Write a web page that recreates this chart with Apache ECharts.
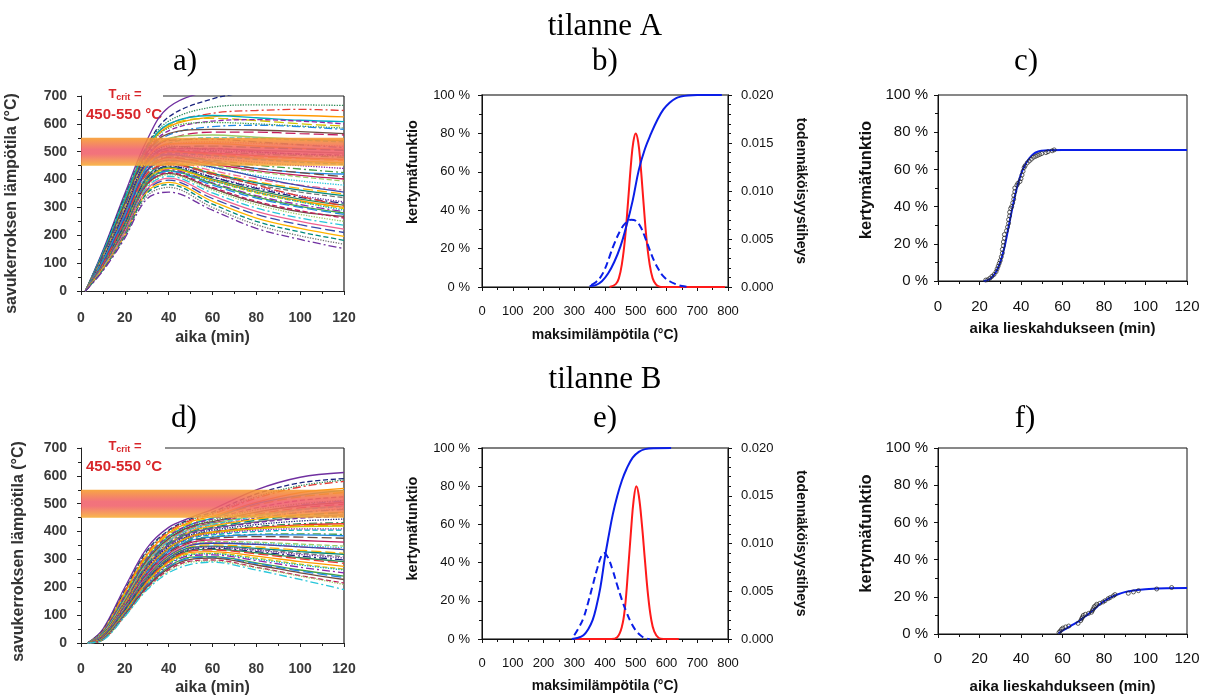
<!DOCTYPE html>
<html>
<head>
<meta charset="utf-8">
<script src="https://cdn.jsdelivr.net/npm/echarts@6/dist/echarts.min.js"></script>
<style>
  html, body { margin: 0; padding: 0; background: #fff; }
  #kuva { width: 1211px; height: 700px; }
</style>
</head>
<body>
<div id="kuva"></div>
<script>
// a) tilanne A: savukerroksen lämpötila, arvot aikapisteissä
const aikaA = [2, 10, 20, 30, 40, 60, 80, 100, 120]
const kayratA = [
    [0, 145, 350, 540, 660, 720, 730, 730, 730],
    [0, 140, 340, 520, 625, 690, 715, 720, 720],
    [0, 140, 340, 520, 610, 660, 668, 668, 666],
    [0, 130, 330, 515, 598, 638, 648, 652, 648],
    [0, 135, 320, 510, 590, 625, 632, 630, 625],
    [0, 132, 325, 512, 595, 620, 612, 600, 592],
    [0, 138, 330, 515, 600, 630, 622, 613, 608],
    [0, 120, 310, 500, 575, 610, 615, 610, 600],
    [0, 128, 318, 505, 585, 605, 600, 592, 585],
    [0, 125, 300, 490, 560, 590, 595, 590, 580],
    [0, 130, 315, 495, 565, 580, 578, 572, 565],
    [0, 120, 300, 480, 545, 570, 570, 565, 560],
    [0, 122, 302, 482, 548, 560, 552, 545, 540],
    [0, 115, 290, 470, 530, 550, 548, 542, 535],
    [0, 118, 295, 475, 525, 535, 530, 525, 520],
    [0, 125, 305, 485, 540, 545, 535, 525, 515],
    [0, 116, 292, 472, 528, 530, 520, 512, 508],
    [0, 110, 285, 465, 515, 520, 515, 510, 505],
    [0, 112, 280, 460, 510, 510, 505, 500, 495],
    [0, 112, 285, 462, 512, 512, 500, 492, 488],
    [0, 115, 290, 470, 520, 505, 498, 490, 485],
    [0, 108, 275, 455, 505, 500, 492, 486, 480],
    [0, 106, 272, 452, 502, 495, 486, 478, 472],
    [0, 105, 270, 450, 500, 492, 482, 475, 468],
    [0, 104, 268, 448, 498, 488, 476, 466, 460],
    [0, 110, 270, 445, 495, 485, 472, 462, 455],
    [0, 100, 265, 440, 490, 478, 462, 450, 440],
    [0, 102, 260, 435, 485, 470, 452, 438, 425],
    [0, 105, 270, 445, 490, 465, 440, 425, 420],
    [0, 98, 255, 430, 480, 460, 440, 425, 410],
    [0, 98, 258, 432, 478, 455, 432, 415, 402],
    [0, 100, 250, 425, 475, 450, 428, 410, 395],
    [0, 95, 250, 420, 470, 442, 415, 395, 380],
    [0, 96, 245, 415, 465, 432, 402, 380, 362],
    [0, 100, 260, 430, 470, 445, 410, 378, 355],
    [0, 92, 240, 410, 460, 425, 392, 368, 348],
    [0, 93, 244, 410, 458, 422, 388, 362, 342],
    [0, 94, 238, 405, 455, 418, 382, 355, 335],
    [0, 90, 235, 400, 450, 410, 372, 342, 320],
    [0, 91, 236, 402, 448, 408, 368, 336, 315],
    [0, 92, 230, 398, 445, 402, 362, 330, 308],
    [0, 95, 255, 420, 455, 420, 380, 340, 305],
    [0, 89, 230, 396, 440, 398, 356, 324, 300],
    [0, 88, 228, 395, 440, 396, 352, 320, 296],
    [0, 88, 230, 395, 430, 395, 355, 320, 290],
    [0, 90, 225, 390, 435, 388, 342, 310, 285],
    [0, 86, 224, 388, 432, 385, 338, 304, 280],
    [0, 85, 222, 385, 430, 380, 333, 300, 275],
    [0, 84, 218, 382, 422, 368, 318, 284, 268],
    [0, 86, 220, 380, 425, 372, 322, 288, 262],
    [0, 82, 215, 375, 418, 362, 310, 275, 250],
    [0, 84, 212, 370, 412, 352, 298, 262, 236],
    [0, 80, 210, 365, 405, 342, 286, 250, 222],
    [0, 78, 205, 360, 398, 332, 275, 238, 210],
    [0, 80, 200, 355, 390, 322, 262, 225, 196],
    [0, 76, 198, 350, 382, 312, 250, 212, 182],
    [0, 75, 195, 340, 372, 300, 238, 198, 168],
    [0, 72, 190, 330, 355, 290, 225, 185, 152],
]

// d) tilanne B
const aikaD = [3, 10, 20, 30, 40, 50, 60, 80, 100, 120]
const kayratD = [
    [0, 50, 200, 340, 415, 450, 480, 550, 595, 612],
    [0, 45, 190, 330, 405, 445, 470, 535, 575, 590],
    [0, 44, 188, 326, 402, 442, 465, 525, 565, 585],
    [0, 40, 185, 320, 400, 440, 462, 520, 560, 580],
    [0, 42, 180, 315, 395, 435, 455, 505, 540, 555],
    [0, 38, 175, 310, 390, 430, 450, 495, 525, 540],
    [0, 38, 168, 300, 382, 425, 448, 500, 530, 548],
    [0, 40, 170, 305, 385, 425, 445, 485, 512, 525],
    [0, 35, 165, 300, 380, 420, 440, 478, 500, 512],
    [0, 35, 160, 292, 372, 415, 432, 468, 495, 510],
    [0, 36, 160, 295, 375, 418, 436, 470, 492, 505],
    [0, 33, 158, 290, 370, 412, 430, 462, 485, 498],
    [0, 34, 156, 288, 368, 410, 428, 458, 480, 492],
    [0, 34, 155, 285, 365, 408, 425, 455, 478, 490],
    [0, 32, 152, 282, 362, 405, 422, 450, 470, 482],
    [0, 30, 150, 280, 360, 402, 420, 448, 468, 480],
    [0, 30, 150, 278, 355, 400, 420, 445, 460, 470],
    [0, 32, 148, 278, 355, 398, 415, 440, 458, 468],
    [0, 29, 146, 274, 352, 395, 412, 435, 452, 460],
    [0, 28, 145, 272, 350, 392, 410, 432, 448, 455],
    [0, 30, 142, 268, 345, 388, 405, 425, 438, 445],
    [0, 26, 140, 265, 342, 385, 400, 418, 428, 432],
    [0, 27, 140, 264, 340, 383, 398, 414, 424, 428],
    [0, 28, 142, 262, 340, 382, 398, 412, 420, 422],
    [0, 28, 138, 260, 338, 380, 395, 410, 418, 420],
    [0, 25, 135, 256, 334, 375, 388, 400, 405, 405],
    [0, 26, 138, 258, 335, 378, 392, 405, 410, 410],
    [0, 26, 132, 252, 330, 370, 382, 390, 392, 390],
    [0, 24, 130, 250, 328, 368, 380, 388, 388, 385],
    [0, 23, 130, 248, 325, 365, 376, 382, 380, 376],
    [0, 24, 128, 245, 320, 360, 370, 372, 368, 362],
    [0, 22, 125, 240, 316, 355, 364, 362, 355, 348],
    [0, 21, 124, 238, 314, 352, 360, 358, 350, 342],
    [0, 22, 125, 238, 315, 352, 360, 355, 345, 338],
    [0, 22, 122, 236, 312, 350, 358, 354, 345, 335],
    [0, 20, 120, 232, 308, 345, 352, 345, 333, 322],
    [0, 20, 120, 230, 305, 342, 348, 340, 328, 318],
    [0, 20, 118, 228, 303, 340, 346, 336, 322, 310],
    [0, 19, 117, 226, 300, 338, 344, 333, 318, 305],
    [0, 18, 115, 224, 298, 335, 340, 328, 312, 298],
    [0, 17, 113, 222, 296, 332, 336, 324, 306, 292],
    [0, 18, 112, 220, 294, 330, 334, 320, 302, 286],
    [0, 16, 110, 216, 290, 325, 328, 312, 292, 275],
    [0, 16, 108, 212, 285, 320, 322, 305, 283, 265],
    [0, 15, 107, 210, 283, 317, 320, 301, 280, 262],
    [0, 14, 105, 208, 280, 314, 316, 296, 272, 252],
    [0, 14, 102, 204, 274, 308, 310, 288, 262, 240],
    [0, 13, 103, 203, 272, 305, 308, 285, 258, 235],
    [0, 12, 100, 200, 268, 300, 305, 280, 252, 228],
    [0, 12, 98, 196, 262, 294, 298, 272, 242, 215],
    [0, 11, 96, 192, 258, 290, 294, 270, 240, 210],
    [0, 10, 95, 190, 252, 282, 290, 262, 228, 192],
]

// b) kertymäfunktio (sininen), tiheys (katkoviiva) ja kriittinen lämpötila (punainen)
const bKertymaX = [350, 370, 390, 410, 430, 450, 470, 490, 510, 530, 550, 570, 590, 610, 630, 650, 670, 700, 780]
const bKertymaY = [0.5, 1, 3, 7, 13, 21, 32, 45, 61, 72, 80, 87, 92.5, 96, 98.3, 99.3, 99.8, 100, 100]
const bTiheysX = [355, 370, 385, 400, 415, 430, 450, 465, 485, 500, 515, 530, 545, 560, 575, 590, 610, 630, 650, 670]
const bTiheysY = [0.0002, 0.0005, 0.001, 0.0019, 0.0032, 0.0045, 0.0059, 0.0066, 0.007, 0.0069, 0.0063, 0.0052, 0.0039, 0.0027, 0.0018, 0.0011, 0.0006, 0.0003, 0.0001, 0.00002]
const bKriitX = [415, 435, 445, 455, 465, 475, 485, 492, 500, 508, 515, 525, 535, 545, 555, 565, 575, 590, 790]
const bKriitY = [0, 0.0003, 0.0009, 0.0024, 0.005, 0.0089, 0.013, 0.0151, 0.016, 0.0151, 0.013, 0.0089, 0.005, 0.0024, 0.0009, 0.0003, 0.00006, 0, 0]

// e)
const eKertymaX = [292, 310, 330, 345, 360, 372, 385, 400, 412, 425, 440, 455, 470, 490, 510, 530, 560, 615]
const eKertymaY = [0, 0.5, 2, 5, 10, 17, 27, 43, 54, 65, 75, 83, 89, 95, 98, 99.4, 99.9, 100]
const eTiheysX = [300, 315, 330, 345, 360, 375, 388, 397, 410, 425, 440, 455, 470, 485, 500, 515, 530, 545]
const eTiheysY = [0.0004, 0.0012, 0.0022, 0.0038, 0.0056, 0.0074, 0.0087, 0.009, 0.0085, 0.0072, 0.0056, 0.0041, 0.0028, 0.0017, 0.0009, 0.0004, 0.0001, 0]
const eKriitX = [300, 420, 440, 455, 465, 475, 485, 493, 502, 510, 520, 530, 540, 550, 560, 575, 590, 640]
const eKriitY = [0, 0, 0.0002, 0.0013, 0.0033, 0.0072, 0.0115, 0.0145, 0.016, 0.015, 0.012, 0.0082, 0.0046, 0.0021, 0.0008, 0.0001, 0, 0]

// c) aika lieskahdukseen, tilanne A
const cKayraX = [22, 24, 26, 28, 30, 32, 34, 36, 38, 40, 42, 44, 46, 48, 50, 53, 60, 120]
const cKayraY = [0, 0.5, 2, 5, 10, 18, 29, 40, 50, 57.5, 62.5, 66, 68.3, 69.5, 70, 70.3, 70.4, 70.4]
const cPisteX = [23, 24, 25, 26, 27, 28, 28.5, 29, 29.5, 30, 30.5, 31, 31, 31.5, 31.5, 32, 32, 33, 33.5, 34, 34, 34.5, 34.5, 35, 35.5, 36, 36.5, 36.5, 37, 37, 38, 38.5, 39.5, 40, 40.5, 41, 41.5, 42, 43, 44, 45, 46, 47, 48, 49, 50, 52, 53, 55, 56]
const cPisteY = [0.5, 0.7, 1.5, 2.5, 3.5, 5, 6.5, 8, 9.5, 11, 13, 15, 17, 19, 21, 23, 25, 27, 29, 31, 33, 35, 37, 39, 40, 42, 44, 46, 48, 50, 51.5, 52.5, 53.5, 55, 57, 59, 61, 62, 63.5, 64.5, 65.5, 66.5, 67, 67.5, 68, 68.5, 69, 69.5, 70, 70.5]

// f) tilanne B
const fKayraX = [58, 60, 62, 65, 68, 70, 72, 75, 78, 80, 83, 86, 90, 95, 100, 105, 110, 120]
const fKayraY = [0.3, 1.8, 3, 5, 7, 8.7, 10.3, 13, 16, 17.6, 19.5, 21, 22.5, 23.5, 24.1, 24.4, 24.6, 24.7]
const fPisteX = [58.3, 58.8, 59.5, 60.2, 61.5, 63, 67.5, 68.8, 69.2, 69.6, 70, 71, 72.6, 74, 74.4, 74.8, 75.3, 76, 76.5, 78, 79.5, 80.5, 82, 83, 84.5, 85.3, 91.7, 94.2, 96.6, 105.4, 112.6]
const fPisteY = [0.8, 1.5, 2.5, 3.2, 3.8, 4.3, 5.7, 7.2, 8.2, 9, 10, 10.6, 11.1, 11.7, 12.6, 13.5, 14.7, 15.2, 16, 16.5, 17.2, 17.9, 19, 19.6, 20.5, 21.2, 21.9, 22.6, 23.3, 24.2, 25]

const vaerit = ['#7030a0', '#1a237e', '#2e8b57', '#e53935', '#ff9800', '#d4c400', '#00acc1', '#8e24aa',
    '#43a047', '#1e88e5', '#6d4c41', '#c2185b', '#9ccc65', '#26c6da', '#f06292', '#3949ab', '#ffb300', '#00897b', '#757575']
const viivat = ['solid', 'dashed', 'dotted', [8, 3, 2, 3], 'solid', [10, 4]]

const sans = '"Liberation Sans", Arial, sans-serif'
const serif = '"Liberation Serif", "Times New Roman", serif'
const sininen = '#0a1ee8'
const punainen = '#ff1a1a'

const pari = (xs, ys) => xs.map((x, i) => [x, ys[i]])

const otsikko = (text, left, top) => ({
    text, left, top, textAlign: 'center', padding: 0,
    textStyle: { fontFamily: serif, fontSize: 31, fontWeight: 'normal', color: '#000' },
})

const tikit = (color, minor) => ({
    axisLine: { onZero: false, lineStyle: { color, width: 1 } },
    axisTick: { length: 4, lineStyle: { color } },
    minorTick: { show: true, splitNumber: minor, length: 3, lineStyle: { color } },
    splitLine: { show: false },
})

const lampoX = (grid, nameGap, margin) => ({
    gridIndex: grid, type: 'value', min: 0, max: 120, interval: 20, ...tikit('#222', 2),
    axisLabel: { margin, fontSize: 14, fontWeight: 'bold', color: '#3a3a3a', fontFamily: sans },
    name: 'aika (min)', nameLocation: 'middle', nameGap,
    nameTextStyle: { fontSize: 16, fontWeight: 'bold', color: '#333', fontFamily: sans },
})
const lampoY = (grid, nameGap, siirto) => ({
    gridIndex: grid, type: 'value', min: 0, max: 700, interval: 100, ...tikit('#222', 2),
    axisLabel: { margin: 14, fontSize: 14, fontWeight: 'bold', color: '#3a3a3a', fontFamily: sans },
    name: 'savukerroksen lämpötila (°C)', nameLocation: 'middle', nameGap, nameRotate: 90,
    nameTextStyle: { fontSize: 16, fontWeight: 'bold', color: '#333', fontFamily: sans, padding: [0, siirto, 0, 0] },
})
const maksX = (grid, nameGap) => ({
    gridIndex: grid, type: 'value', min: 0, max: 800, interval: 100, ...tikit('#111', 2),
    axisLabel: { margin: 18, fontSize: 13, color: '#111', fontFamily: sans },
    name: 'maksimilämpötila (°C)', nameLocation: 'middle', nameGap,
    nameTextStyle: { fontSize: 14, fontWeight: 'bold', color: '#111', fontFamily: sans },
})
const kertymaY = (grid, fontSize, margin, nameGap, siirto) => ({
    gridIndex: grid, type: 'value', min: 0, max: 100, interval: 20, ...tikit('#111', 2),
    axisLabel: { margin, fontSize, color: '#111', fontFamily: sans, formatter: (v) => v + ' %' },
    name: 'kertymäfunktio', nameLocation: 'middle', nameGap, nameRotate: 90,
    nameTextStyle: { fontSize: fontSize + 1.5, fontWeight: 'bold', color: '#111', fontFamily: sans, padding: [0, 0, 0, siirto] },
})
const tiheysY = (grid) => ({
    gridIndex: grid, type: 'value', position: 'right', min: 0, max: 0.02, interval: 0.005, ...tikit('#111', 5),
    axisLabel: { margin: 13, fontSize: 13, color: '#111', fontFamily: sans, formatter: (v) => v.toFixed(3) },
    name: 'todennäköisyystiheys', nameLocation: 'middle', nameGap: 66, nameRotate: -90,
    nameTextStyle: { fontSize: 14, fontWeight: 'bold', color: '#111', fontFamily: sans },
})
const lieskaX = (grid, nameGap, margin) => ({
    gridIndex: grid, type: 'value', min: 0, max: 120, interval: 20, ...tikit('#111', 2),
    axisLabel: { margin, fontSize: 15, color: '#111', fontFamily: sans },
    name: 'aika lieskahdukseen (min)', nameLocation: 'middle', nameGap,
    nameTextStyle: { fontSize: 15, fontWeight: 'bold', color: '#111', fontFamily: sans },
})

const series = []

const lisaaKayrat = (kayrat, aika, akseli) => {
    kayrat.forEach((arvot, i) => {
        series.push({
            type: 'line', xAxisIndex: akseli, yAxisIndex: akseli === 0 ? 0 : 4,
            data: pari(aika, arvot), showSymbol: false, smooth: 0.35, silent: true,
            lineStyle: { color: vaerit[i % vaerit.length], width: 1.3, type: viivat[i % viivat.length] },
        })
    })
}

const kaista = (akseli) => ({
    type: 'line', xAxisIndex: akseli, yAxisIndex: akseli === 0 ? 0 : 4, z: 10,
    data: [[0, 500]], symbol: 'none', lineStyle: { opacity: 0 }, silent: true,
    markArea: {
        silent: true, z: 10,
        itemStyle: {
            opacity: 0.88,
            color: {
                type: 'linear', x: 0, y: 0, x2: 0, y2: 1,
                colorStops: [
                    { offset: 0, color: '#f79a2a' },
                    { offset: 0.42, color: '#f0606a' },
                    { offset: 0.58, color: '#f0606a' },
                    { offset: 1, color: '#f8ac34' },
                ],
            },
        },
        data: [[{ yAxis: 550 }, { yAxis: 450 }]],
    },
})

lisaaKayrat(kayratA, aikaA, 0)
series.push(kaista(0))
lisaaKayrat(kayratD, aikaD, 3)
series.push(kaista(3))

const viiva = (x, y, xs, ys, color, type) => ({
    type: 'line', xAxisIndex: x, yAxisIndex: y, data: pari(xs, ys), showSymbol: false,
    smooth: 0.4, silent: true, lineStyle: { color, width: 2, type },
})
const pisteet = (x, y, xs, ys) => ({
    type: 'scatter', xAxisIndex: x, yAxisIndex: y, data: pari(xs, ys), symbol: 'circle', symbolSize: 4,
    silent: true, z: 3, itemStyle: { color: 'rgba(255,255,255,0)', borderColor: '#222', borderWidth: 0.9 },
})

series.push(viiva(1, 2, bKriitX, bKriitY, punainen, 'solid'))
series.push(viiva(1, 2, bTiheysX, bTiheysY, sininen, [7, 4]))
series.push(viiva(1, 1, bKertymaX, bKertymaY, sininen, 'solid'))
series.push(viiva(4, 6, eKriitX, eKriitY, punainen, 'solid'))
series.push(viiva(4, 6, eTiheysX, eTiheysY, sininen, [7, 4]))
series.push(viiva(4, 5, eKertymaX, eKertymaY, sininen, 'solid'))
series.push(pisteet(2, 3, cPisteX, cPisteY))
series.push(viiva(2, 3, cKayraX, cKayraY, sininen, 'solid'))
series.push(pisteet(5, 7, fPisteX, fPisteY))
series.push(viiva(5, 7, fKayraX, fKayraY, sininen, 'solid'))

const reunus = (x1, y1, x2, y2) => ({
    type: 'line', shape: { x1, y1, x2, y2 }, silent: true, style: { stroke: '#222', lineWidth: 1.2 },
})
const tcrit = (y) => [
    {
        type: 'text', x: 125, y, silent: true,
        style: {
            text: '{t|T}{s|crit}{t| =}', align: 'center', verticalAlign: 'middle',
            rich: {
                t: { fontSize: 13, fontWeight: 'bold', fontFamily: sans, fill: '#d8262a', lineHeight: 16 },
                s: { fontSize: 9, fontWeight: 'bold', fontFamily: sans, fill: '#d8262a', verticalAlign: 'bottom', lineHeight: 12 },
            },
        },
    },
    {
        type: 'text', x: 124, y: y + 21, silent: true,
        style: { text: '450-550 °C', font: 'bold 15px ' + sans, fill: '#d8262a', align: 'center', verticalAlign: 'middle' },
    },
]

const option = {
    animation: false,
    backgroundColor: '#fff',
    title: [
        otsikko('tilanne A', 605, 11),
        otsikko('a)', 185, 46),
        otsikko('b)', 605, 46),
        otsikko('c)', 1026, 46),
        otsikko('tilanne B', 605, 364),
        otsikko('d)', 184, 403),
        otsikko('e)', 605, 403),
        otsikko('f)', 1025, 403),
    ],
    grid: [
        { left: 81, top: 96, width: 263, height: 195 },
        { left: 482, top: 95, width: 246, height: 192, show: true, borderColor: '#555', borderWidth: 1.5 },
        { left: 938, top: 95, width: 249, height: 186, show: true, borderColor: '#111', borderWidth: 1 },
        { left: 81, top: 448, width: 263, height: 195 },
        { left: 482, top: 448, width: 246, height: 191, show: true, borderColor: '#555', borderWidth: 1.5 },
        { left: 938, top: 448, width: 249, height: 186, show: true, borderColor: '#111', borderWidth: 1 },
    ],
    xAxis: [
        lampoX(0, 39, 20),
        maksX(1, 41),
        lieskaX(2, 40, 18),
        lampoX(3, 37, 19),
        maksX(4, 40),
        lieskaX(5, 45, 17),
    ],
    yAxis: [
        lampoY(0, 61, 20),
        kertymaY(1, 13, 12, 62, 38),
        tiheysY(1),
        kertymaY(2, 15, 10, 63, 16),
        lampoY(3, 54, 12),
        kertymaY(4, 13, 12, 62, 30),
        tiheysY(4),
        kertymaY(5, 15, 10, 63, 15),
    ],
    graphic: [
        reunus(163, 96, 344, 96),
        reunus(344, 96, 344, 291),
        reunus(165, 448, 344, 448),
        reunus(344, 448, 344, 643),
        ...tcrit(94),
        ...tcrit(446),
    ],
    series,
}

const chart = echarts.init(document.getElementById('kuva'))
chart.setOption(option)
window.addEventListener('resize', () => chart.resize())
</script>
</body>
</html>
